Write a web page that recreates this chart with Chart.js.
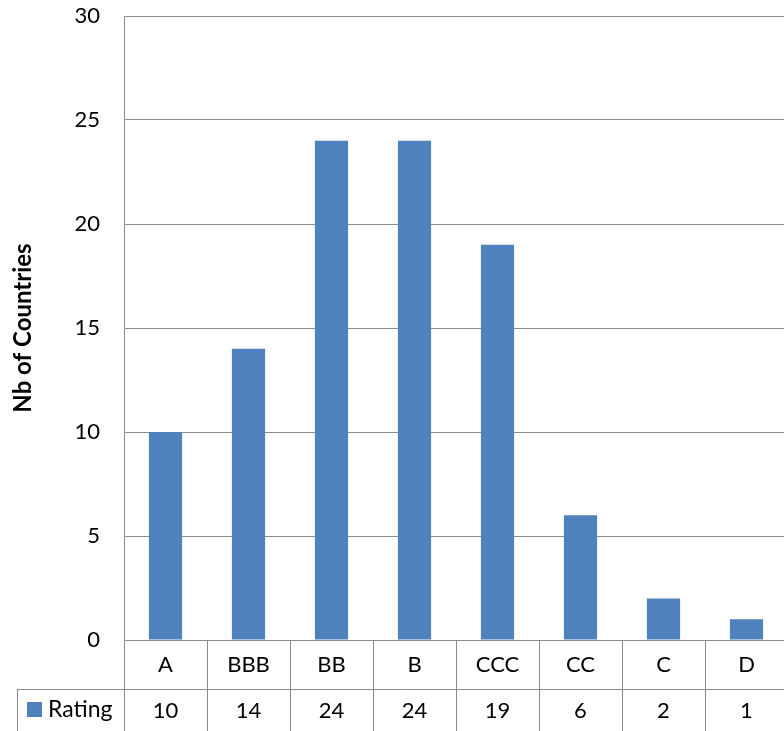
<!DOCTYPE html>
<html>
<head>
<meta charset="utf-8">
<script src="https://cdn.jsdelivr.net/npm/chart.js@4"></script>
<style>
  html, body { margin: 0; padding: 0; background: #fff; overflow: hidden; }
  #wrap { width: 788px; height: 731px; }
</style>
</head>
<body>
<div id="wrap"><canvas id="barGraph" width="788" height="731"></canvas></div>
<script>
const categories = ["A", "BBB", "BB", "B", "CCC", "CC", "C", "D"];
const ratingValues = [10, 14, 24, 24, 19, 6, 2, 1];
const seriesName = "Rating";
const yTicks = [0, 5, 10, 15, 20, 25, 30];

const fontFamily = "Lato, 'Open Sans', sans-serif";
const gridColor = "#8c8c8c";
const barColor = "#4f81bd";

// data table under the plot, drawn from the x scale
const dataTable = {
  id: "dataTable",
  afterDraw(chart) {
    const ctx = chart.ctx;
    const x = chart.scales.x;
    const area = chart.chartArea;
    const row1Top = area.bottom;
    const row2Top = area.bottom + 49;
    const bottom = chart.height;
    const step = x.getPixelForValue(1) - x.getPixelForValue(0);
    const tableLeft = 17;

    ctx.save();
    ctx.strokeStyle = gridColor;
    ctx.lineWidth = 1;
    ctx.beginPath();
    ctx.moveTo(area.left, row1Top + 0.5);
    ctx.lineTo(area.right, row1Top + 0.5);
    ctx.moveTo(tableLeft, row2Top + 0.5);
    ctx.lineTo(area.right, row2Top + 0.5);
    ctx.moveTo(tableLeft + 0.5, row2Top);
    ctx.lineTo(tableLeft + 0.5, bottom);
    categories.forEach((c, i) => {
      const edge = Math.round(x.getPixelForValue(i) - step / 2) + 0.5;
      ctx.moveTo(edge, row1Top);
      ctx.lineTo(edge, bottom);
    });
    const lastEdge = Math.round(x.getPixelForValue(categories.length - 1) + step / 2) - 0.5;
    ctx.moveTo(lastEdge, row1Top);
    ctx.lineTo(lastEdge, bottom);
    ctx.stroke();

    ctx.fillStyle = "#000";
    ctx.font = "22px " + fontFamily;
    ctx.textAlign = "center";
    ctx.textBaseline = "middle";
    categories.forEach((c, i) => {
      const cx = x.getPixelForValue(i);
      ctx.fillText(c, cx, row1Top + 25);
      ctx.fillText(String(ratingValues[i]), cx, row2Top + 22);
    });

    // legend key
    ctx.fillStyle = barColor;
    ctx.fillRect(27, row2Top + 13, 15, 15);
    ctx.fillStyle = "#000";
    ctx.font = "23px " + fontFamily;
    ctx.textAlign = "left";
    ctx.fillText(seriesName, 48, row2Top + 21);
    ctx.restore();
  }
};

const ctx = document.getElementById("barGraph").getContext("2d");
new Chart(ctx, {
  type: "bar",
  data: {
    labels: categories,
    datasets: [
      {
        label: seriesName,
        data: ratingValues,
        backgroundColor: barColor,
        borderWidth: 0,
        barPercentage: 0.4,
        categoryPercentage: 1.0,
      },
    ],
  },
  options: {
    responsive: false,
    animation: false,
    devicePixelRatio: 1,
    layout: { padding: { top: 16, bottom: 91, left: 0, right: 0 } },
    plugins: {
      legend: { display: false },
      tooltip: { enabled: false },
    },
    scales: {
      x: {
        display: false,
      },
      y: {
        min: 0,
        max: 30,
        afterBuildTicks: (scale) => {
          scale.ticks = yTicks.map((v) => ({ value: v }));
        },
        afterFit: (scale) => {
          scale.width = 124;
          scale.paddingTop = 0;
          scale.paddingBottom = 0;
        },
        grid: {
          color: gridColor,
          lineWidth: 1,
          drawTicks: false,
        },
        border: { display: true, color: gridColor, width: 1 },
        ticks: {
          padding: 24,
          color: "#000",
          font: { family: fontFamily, size: 22 },
        },
        title: {
          display: true,
          text: "Nb of Countries",
          color: "#000",
          padding: { top: 9, bottom: 0 },
          font: { family: fontFamily, size: 24, weight: "bold" },
        },
      },
    },
  },
  plugins: [dataTable],
});
</script>
</body>
</html>
